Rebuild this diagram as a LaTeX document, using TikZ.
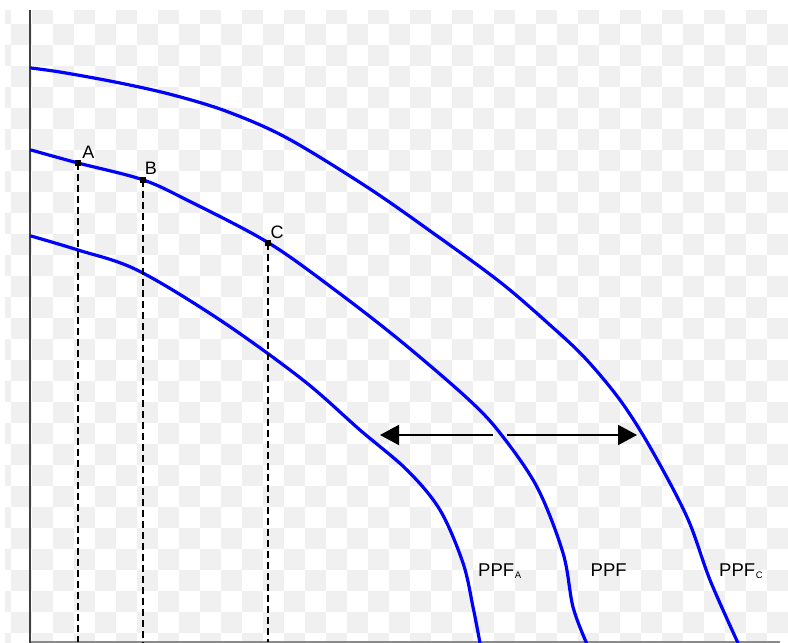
\documentclass[tikz,border=0pt]{standalone}
\usepackage{fontspec}
\setmainfont{Liberation Sans}
\usetikzlibrary{arrows.meta}
\definecolor{checkgray}{HTML}{F0F0F0}
\definecolor{axisdark}{HTML}{404040}
\definecolor{axislight}{HTML}{8A8A8A}
\definecolor{ppfblue}{HTML}{0000FF}
\begin{document}
\begin{tikzpicture}[x=1pt,y=-1pt,
  ppf/.style={draw=ppfblue,line width=3.2pt,line join=round,line cap=round},
  guide/.style={draw=black,line width=2pt,dash pattern=on 7pt off 4pt},
  dot/.style={fill=black,minimum size=6pt,inner sep=0pt,draw=none,rectangle},
  ptlabel/.style={font=\fontsize{18}{18}\selectfont,inner sep=0pt,text=black},
  ppflabel/.style={font=\fontsize{18.5}{18.5}\selectfont,inner sep=0pt,anchor=base west,text=black},
  arrowline/.style={draw=black,line width=2pt,-{Triangle[length=19pt,width=20pt]}},
]
\useasboundingbox (0,0) rectangle (788,643);
\fill[white] (0,0) rectangle (788,643);
% checkerboard background
\begin{scope}
\clip (5,10) rectangle (788,643);
\foreach \i in {-1,...,37}{
  \foreach \j in {0,...,30}{
    \pgfmathtruncatemacro\cellodd{mod(\i+\j+100,2)}
    \ifnum\cellodd=1
      \fill[checkgray] ({11.3+21*\i},{3+21*\j}) rectangle +(21,21);
    \fi
  }
}
\end{scope}
% axes
\coordinate (ytop) at (30,10);
\coordinate (ybot) at (30,643);
\coordinate (origin) at (30,642);
\coordinate (xend) at (780,642);
\draw[axislight,line width=1.5pt] (origin) -- (xend);
\draw[axisdark,line width=2pt] (ytop) -- (ybot);
% curves
\draw[ppf] plot[smooth,tension=0.55] coordinates {(31,68) (63,72.5) (120,83) (173,95) (227,111.5) (287,138) (367,187) (433,233) (500,282) (550,325) (585,358) (620,400) (650,447) (687,517) (710,580) (738,643)};
\draw[ppf] plot[smooth,tension=0.55] coordinates {(31,150) (78,163) (142,179.5) (187,200) (268,242.5) (335,290) (400,340.5) (467,398) (500,433) (537,487) (563,553) (573,607) (586.5,643)};
\draw[ppf] plot[smooth,tension=0.55] coordinates {(31,236) (78,250) (137,270) (220,320) (303,380) (360,430) (407,470) (440,510) (463,563) (473,607) (480,643)};
% guide lines and points
\coordinate (Abot) at (78.3,642);
\coordinate (Bbot) at (142.5,642);
\coordinate (Cbot) at (268.3,642);
\node[dot] (A) at (78.3,163) {};
\node[dot] (B) at (142.5,179.8) {};
\node[dot] (C) at (268.3,243.2) {};
\draw[guide] (A.center) -- (Abot);
\draw[guide] (B.center) -- (Bbot);
\draw[guide] (C.center) -- (Cbot);
\node[dot] at (A.center) {};
\node[dot] at (B.center) {};
\node[dot] at (C.center) {};
\node[ptlabel] (labA) at (88.3,152.5) {A};
\node[ptlabel] (labB) at (151,168.2) {B};
\node[ptlabel] (labC) at (277,232) {C};
% arrow
\coordinate (arrL) at (380,435);
\coordinate (gapL) at (493,435);
\coordinate (gapR) at (507,435);
\coordinate (arrR) at (637,435);
\draw[arrowline] (gapL) -- (arrL);
\draw[arrowline] (gapR) -- (arrR);
% labels
\node[ppflabel] (labPPFA) at (478,576.7) {PPF\kern0.8pt\raisebox{-1.5pt}{\fontsize{9.5}{9.5}\selectfont A}};
\node[ppflabel] (labPPF) at (590.5,576.7) {PPF};
\node[ppflabel] (labPPFC) at (719,576.7) {PPF\kern0.8pt\raisebox{-1.5pt}{\fontsize{9.5}{9.5}\selectfont C}};
\end{tikzpicture}
\end{document}
